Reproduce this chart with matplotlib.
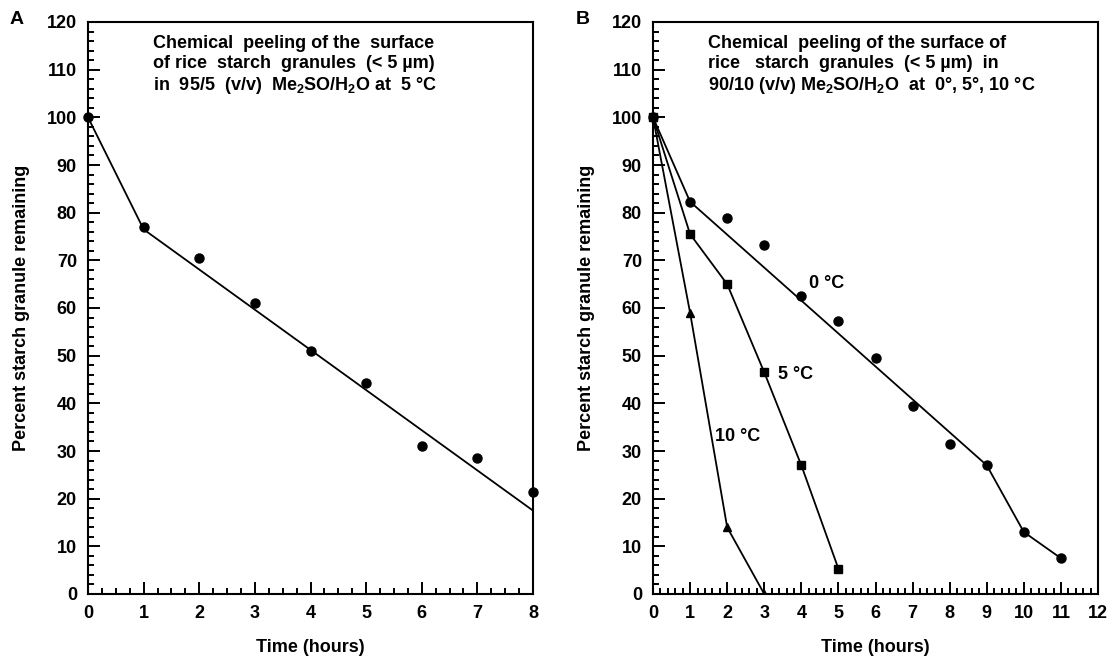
import matplotlib
matplotlib.use("Agg")
import matplotlib.pyplot as plt
from matplotlib.ticker import MultipleLocator, AutoMinorLocator

plt.rcParams['font.family'] = ['Liberation Sans', 'DejaVu Sans']
plt.rcParams['font.weight'] = 'bold'
plt.rcParams['mathtext.fontset'] = 'custom'
plt.rcParams['mathtext.rm'] = 'Liberation Sans:bold'
plt.rcParams['mathtext.bf'] = 'Liberation Sans:bold'
plt.rcParams['mathtext.default'] = 'bf'

# ---- Panel A data ----
a_time = [0, 1, 2, 3, 4, 5, 6, 7, 8]
a_pct = [100, 77, 70.5, 61, 51, 44.3, 31, 28.5, 21.5]
a_fit_x = [0, 1, 8]
a_fit_y = [100, 76.5, 17.5]

# ---- Panel B data ----
b0_time = [0, 1, 2, 3, 4, 5, 6, 7, 8, 9, 10, 11]
b0_pct = [100, 82.3, 78.8, 73.3, 62.5, 57.3, 49.5, 39.4, 31.5, 27, 13, 7.5]
b0_fit_x = [0, 1, 9, 10, 11]
b0_fit_y = [100, 82.3, 27, 13, 7.5]

b5_time = [0, 1, 2, 3, 4, 5]
b5_pct = [100, 75.5, 65, 46.5, 27, 5.3]

b10_time = [0, 1, 2, 3]
b10_pct = [100, 59, 14, 0]

y_label = "Percent starch granule remaining"
x_label = "Time (hours)"
title_a = ["Chemical  peeling of the  surface",
           "of rice  starch  granules  (< 5 \u00b5m)",
           "in  95/5  (v/v)  Me$_2$SO/H$_2$O at  5 \u00b0C"]
title_b = ["Chemical  peeling of the surface of",
           "rice   starch  granules  (< 5 \u00b5m)  in",
           "90/10 (v/v) Me$_2$SO/H$_2$O  at  0\u00b0, 5\u00b0, 10 \u00b0C"]

FS = 13

W, H = 1110, 656
fig = plt.figure(figsize=(W / 100, H / 100), dpi=100)

def px_axes(l, t, r, b):
    return fig.add_axes([l / W, 1 - b / H, (r - l) / W, (b - t) / H])

axA = px_axes(88, 22, 533, 594)
axB = px_axes(653, 22, 1098, 594)

lw = 1.3
ms = 6.5

def style(ax, xmax, xminor):
    ax.set_xlim(0, xmax)
    ax.set_ylim(0, 120)
    ax.xaxis.set_major_locator(MultipleLocator(1))
    ax.xaxis.set_minor_locator(AutoMinorLocator(xminor))
    ax.yaxis.set_major_locator(MultipleLocator(10))
    ax.yaxis.set_minor_locator(AutoMinorLocator(5))
    ax.tick_params(which='both', direction='in', top=False, right=False,
                   width=1.4, labelsize=FS)
    ax.tick_params(which='major', length=8.5)
    ax.tick_params(axis='y', which='major', pad=8)
    ax.tick_params(axis='x', which='major', pad=8)
    ax.tick_params(which='minor', length=4.5)
    for s in ax.spines.values():
        s.set_linewidth(1.5)
    for lab in ax.get_xticklabels() + ax.get_yticklabels():
        lab.set_fontweight('bold')
    ax.set_xlabel(x_label, fontsize=FS, fontweight='bold', labelpad=12)
    ax.set_ylabel(y_label, fontsize=FS, fontweight='bold', labelpad=12)

style(axA, 8, 4)
style(axB, 12, 5)

# Panel A
axA.plot(a_fit_x, a_fit_y, color='black', lw=lw)
axA.plot(a_time, a_pct, 'o', color='black', ms=ms, clip_on=False)

# Panel B
axB.plot(b0_fit_x, b0_fit_y, color='black', lw=lw)
axB.plot(b0_time, b0_pct, 'o', color='black', ms=ms, clip_on=False)
axB.plot(b5_time, b5_pct, '-s', color='black', lw=lw, ms=ms - 0.5, clip_on=False)
axB.plot(b10_time, b10_pct, '-^', color='black', lw=lw, ms=ms - 0.5)

axB.text(4.2, 65.2, "0 \u00b0C", fontsize=FS, fontweight='bold', va='center')
axB.text(3.37, 46, "5 \u00b0C", fontsize=FS, fontweight='bold', va='center')
axB.text(1.67, 33, "10 \u00b0C", fontsize=FS, fontweight='bold', va='center')

# Title texts
for i, line in enumerate(title_a):
    fig.text(153 / W, 1 - (43 + 21 * i) / H, line, fontsize=FS,
             fontweight='bold', va='center', ha='left')
for i, line in enumerate(title_b):
    fig.text(708 / W, 1 - (43 + 21 * i) / H, line, fontsize=FS,
             fontweight='bold', va='center', ha='left')

fig.text(10 / W, 1 - 20 / H, "A", fontsize=14, fontweight='bold', va='center')
fig.text(576 / W, 1 - 20 / H, "B", fontsize=14, fontweight='bold', va='center')

fig.savefig("out.png", dpi=100)
